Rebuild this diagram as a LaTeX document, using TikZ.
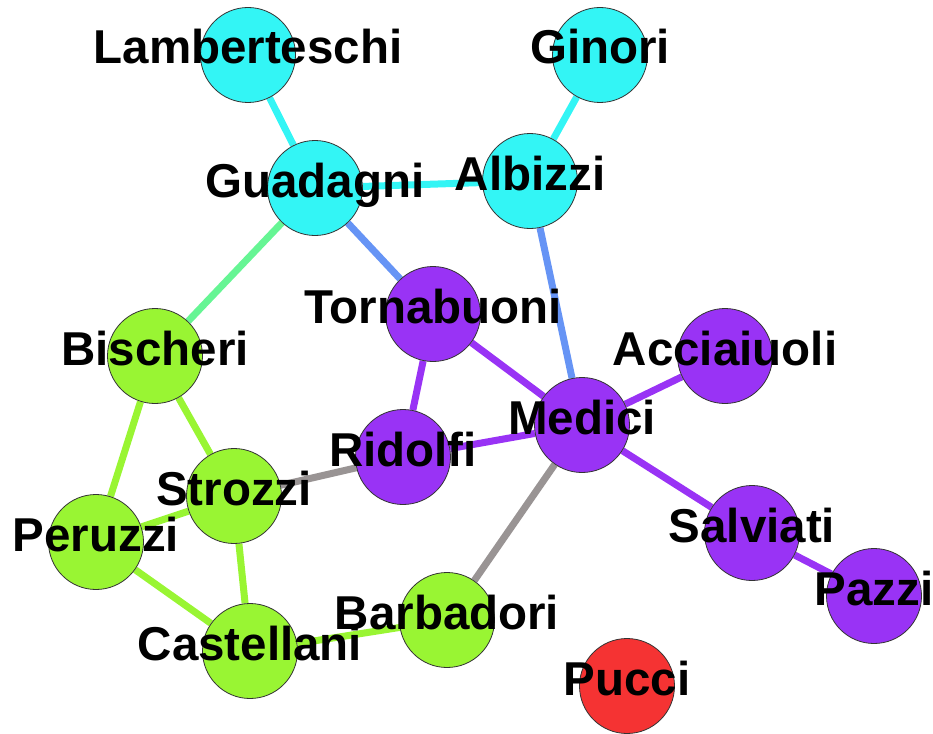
\documentclass[tikz,border=0pt]{standalone}
\usepackage{fontspec}
\setmainfont{Liberation Sans}
\pgfdeclarelayer{bg}
\pgfsetlayers{bg,main}
\definecolor{famcyan}{HTML}{33F5F5}
\definecolor{fampurple}{HTML}{9933F5}
\definecolor{famgreen}{HTML}{99F533}
\definecolor{famred}{HTML}{F53333}
\definecolor{linkblue}{HTML}{6694F5}
\definecolor{linkseafoam}{HTML}{66F594}
\definecolor{linkgray}{HTML}{999494}
\tikzset{
  family/.style={circle, draw=black!80, line width=0.8pt, minimum size=95pt, inner sep=0pt},
  famlabel/.style={anchor=base, inner sep=0pt, font=\bfseries\fontsize{47.5}{50}\selectfont},
  link/.style={line width=7pt},
}
\begin{document}
\begin{tikzpicture}[x=1pt, y=-1pt]
\useasboundingbox (0,0) rectangle (933,733);
% families
\node[family, fill=famcyan]   (lamberteschi) at (248,55)  {};
\node[family, fill=famcyan]   (ginori)       at (600,55)  {};
\node[family, fill=famcyan]   (guadagni)     at (315,188) {};
\node[family, fill=famcyan]   (albizzi)      at (530,181) {};
\node[family, fill=fampurple] (tornabuoni)   at (433,314) {};
\node[family, fill=fampurple] (acciaiuoli)   at (725,356) {};
\node[family, fill=famgreen]  (bischeri)     at (155,356) {};
\node[family, fill=fampurple] (medici)       at (582,425) {};
\node[family, fill=fampurple] (ridolfi)      at (403,457) {};
\node[family, fill=famgreen]  (strozzi)      at (234,496) {};
\node[family, fill=famgreen]  (peruzzi)      at (96,542)  {};
\node[family, fill=fampurple] (salviati)     at (752,533) {};
\node[family, fill=fampurple] (pazzi)        at (874,596) {};
\node[family, fill=famgreen]  (barbadori)    at (447,620) {};
\node[family, fill=famgreen]  (castellani)   at (250,651) {};
\node[family, fill=famred]    (pucci)        at (627,686) {};
% marriage ties
\begin{pgfonlayer}{bg}
\draw[link, famcyan]     (lamberteschi) -- (guadagni);
\draw[link, famcyan]     (ginori) -- (albizzi);
\draw[link, famcyan]     (guadagni) -- (albizzi);
\draw[link, linkblue]    (guadagni) -- (tornabuoni);
\draw[link, linkblue]    (albizzi) -- (medici);
\draw[link, linkseafoam] (guadagni) -- (bischeri);
\draw[link, fampurple]   (tornabuoni) -- (medici);
\draw[link, fampurple]   (tornabuoni) -- (ridolfi);
\draw[link, fampurple]   (ridolfi) -- (medici);
\draw[link, fampurple]   (medici) -- (acciaiuoli);
\draw[link, fampurple]   (medici) -- (salviati);
\draw[link, fampurple]   (salviati) -- (pazzi);
\draw[link, linkgray]    (medici) -- (barbadori);
\draw[link, linkgray]    (strozzi) -- (ridolfi);
\draw[link, famgreen]    (bischeri) -- (strozzi);
\draw[link, famgreen]    (bischeri) -- (peruzzi);
\draw[link, famgreen]    (strozzi) -- (peruzzi);
\draw[link, famgreen]    (strozzi) -- (castellani);
\draw[link, famgreen]    (peruzzi) -- (castellani);
\draw[link, famgreen]    (castellani) -- (barbadori);
\end{pgfonlayer}
% names
\node[famlabel] (lamberteschi-l) at ([yshift=-9pt]lamberteschi.center) {Lamberteschi};
\node[famlabel] (ginori-l)       at ([yshift=-9pt]ginori.center)       {Ginori};
\node[famlabel] (guadagni-l)     at ([yshift=-9pt]guadagni.center)     {Guadagni};
\node[famlabel] (albizzi-l)      at ([yshift=-9pt]albizzi.center)      {Albizzi};
\node[famlabel] (tornabuoni-l)   at ([yshift=-9pt]tornabuoni.center)   {Tornabuoni};
\node[famlabel] (acciaiuoli-l)   at ([yshift=-9pt]acciaiuoli.center)   {Acciaiuoli};
\node[famlabel] (bischeri-l)     at ([yshift=-9pt]bischeri.center)     {Bischeri};
\node[famlabel] (medici-l)       at ([yshift=-9pt]medici.center)       {Medici};
\node[famlabel] (ridolfi-l)      at ([yshift=-9pt]ridolfi.center)      {Ridolfi};
\node[famlabel] (strozzi-l)      at ([yshift=-9pt]strozzi.center)      {Strozzi};
\node[famlabel] (peruzzi-l)      at ([yshift=-9pt]peruzzi.center)      {Peruzzi};
\node[famlabel] (salviati-l)     at ([yshift=-9pt]salviati.center)     {Salviati};
\node[famlabel] (pazzi-l)        at ([yshift=-9pt]pazzi.center)        {Pazzi};
\node[famlabel] (barbadori-l)    at ([yshift=-9pt]barbadori.center)    {Barbadori};
\node[famlabel] (castellani-l)   at ([yshift=-9pt]castellani.center)   {Castellani};
\node[famlabel] (pucci-l)        at ([yshift=-9pt]pucci.center)        {Pucci};
\end{tikzpicture}
\end{document}
